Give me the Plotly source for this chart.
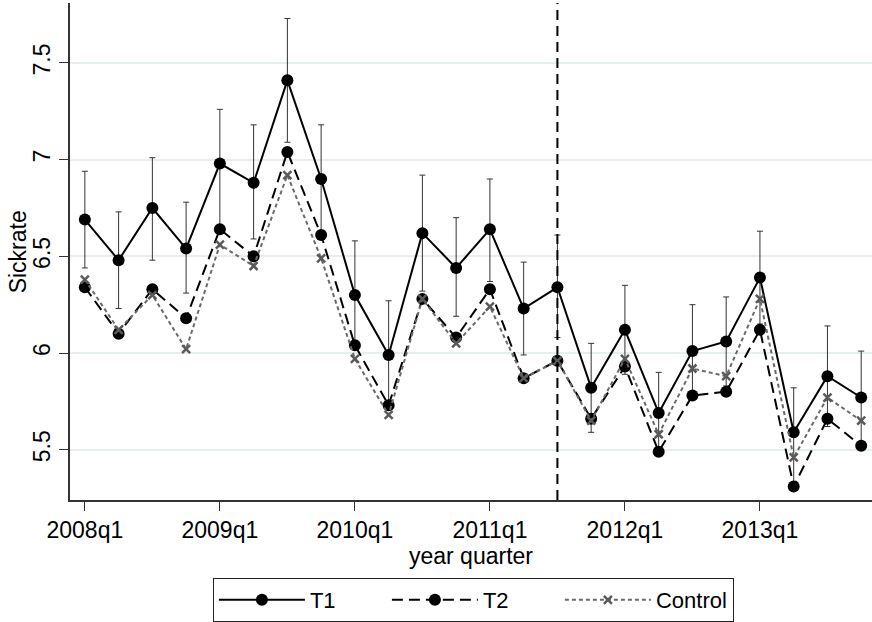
import plotly.graph_objects as go

quarters = ["2008q1", "2008q2", "2008q3", "2008q4",
            "2009q1", "2009q2", "2009q3", "2009q4",
            "2010q1", "2010q2", "2010q3", "2010q4",
            "2011q1", "2011q2", "2011q3", "2011q4",
            "2012q1", "2012q2", "2012q3", "2012q4",
            "2013q1", "2013q2", "2013q3", "2013q4"]

t1 = [6.69, 6.48, 6.75, 6.54, 6.98, 6.88, 7.41, 6.90,
      6.30, 5.99, 6.62, 6.44, 6.64, 6.23, 6.34, 5.82,
      6.12, 5.69, 6.01, 6.06, 6.39, 5.59, 5.88, 5.77]
t1_hi = [6.94, 6.73, 7.01, 6.78, 7.26, 7.18, 7.73, 7.18,
         6.58, 6.27, 6.92, 6.70, 6.90, 6.47, 6.61, 6.05,
         6.35, 5.90, 6.25, 6.29, 6.63, 5.82, 6.14, 6.01]
t1_lo = [6.44, 6.23, 6.48, 6.31, 6.655, 6.59, 7.09, 6.62,
         6.03, 5.73, 6.32, 6.19, 6.37, 5.99, 6.08, 5.59,
         5.89, 5.48, 5.77, 5.83, 6.15, 5.33, 5.62, 5.53]
t2 = [6.34, 6.10, 6.33, 6.18, 6.64, 6.50, 7.04, 6.61,
      6.04, 5.73, 6.28, 6.08, 6.33, 5.87, 5.96, 5.66,
      5.93, 5.49, 5.78, 5.80, 6.12, 5.31, 5.66, 5.52]
control = [6.38, 6.12, 6.30, 6.02, 6.56, 6.45, 6.92, 6.49,
           5.97, 5.68, 6.28, 6.05, 6.24, 5.87, 5.96, 5.65,
           5.97, 5.58, 5.92, 5.88, 6.28, 5.46, 5.77, 5.65]

x_ticks = ["2008q1", "2009q1", "2010q1", "2011q1", "2012q1", "2013q1"]
y_ticks = [5.5, 6, 6.5, 7, 7.5]
y_ticktext = ["5.5", "6", "6.5", "7", "7.5"]
reform_quarter = "2011q3"

FONT = "Liberation Sans, Arial, sans-serif"

fig = go.Figure()

fig.add_trace(go.Scatter(
    x=quarters, y=t1, name="T1", mode="lines+markers",
    line=dict(color="black", width=2),
    marker=dict(symbol="circle", size=12, color="black"),
    error_y=dict(type="data", symmetric=False,
                 array=[h - v for h, v in zip(t1_hi, t1)],
                 arrayminus=[v - l for v, l in zip(t1, t1_lo)],
                 color="#333333", thickness=1, width=3),
))
fig.add_trace(go.Scatter(
    x=quarters, y=t2, name="T2", mode="lines+markers",
    line=dict(color="black", width=2, dash="11px,6px"),
    marker=dict(symbol="circle", size=12, color="black"),
))
fig.add_trace(go.Scatter(
    x=quarters, y=control, name="Control", mode="lines+markers",
    line=dict(color="#6a6a6a", width=2, dash="4px,3px"),
    marker=dict(symbol="x-thin", size=8, color="#5a5a5a",
                line=dict(width=2.5, color="#5a5a5a")),
))

fig.add_shape(type="line", xref="x", yref="paper",
              x0=reform_quarter, x1=reform_quarter, y0=0, y1=1,
              line=dict(color="black", width=2, dash="10px,6px"))

fig.add_annotation(text="Sickrate", textangle=-90, showarrow=False,
                   xref="paper", yref="paper", x=-0.065, y=0.5,
                   xanchor="center", yanchor="middle",
                   font=dict(size=23, family=FONT, color="black"))

fig.update_layout(
    width=872, height=622,
    margin=dict(l=70, r=0, t=3, b=122),
    paper_bgcolor="white", plot_bgcolor="white",
    font=dict(family=FONT, size=23, color="black"),
    showlegend=True,
    legend=dict(orientation="h", x=0.503, xanchor="center",
                y=-0.157, yanchor="top",
                bordercolor="#222", borderwidth=1,
                font=dict(size=22), itemwidth=86,
                entrywidth=72, entrywidthmode="pixels",
                traceorder="normal"),
    xaxis=dict(
        type="category", categoryorder="array", categoryarray=quarters,
        range=[-0.44, 23.32], automargin=False,
        tickmode="array", tickvals=x_ticks, ticktext=x_ticks,
        ticks="outside", ticklen=9, tickcolor="#333", tickwidth=1,
        showline=True, linecolor="#333", linewidth=1.5,
        showgrid=False, zeroline=False,
        title=dict(text="year quarter", standoff=0, font=dict(size=23)),
    ),
    yaxis=dict(
        range=[5.24, 7.81], automargin=False,
        tickmode="array", tickvals=y_ticks, ticktext=y_ticktext,
        tickangle=-90,
        ticks="outside", ticklen=9, tickcolor="#333", tickwidth=1,
        showline=True, linecolor="#333", linewidth=1.5,
        showgrid=True, gridcolor="#e6eef0", gridwidth=1.5,
        zeroline=False,
    ),
)

fig.write_html("out.html", config={"displayModeBar": False},
               post_script="document.body.style.margin='0';")
